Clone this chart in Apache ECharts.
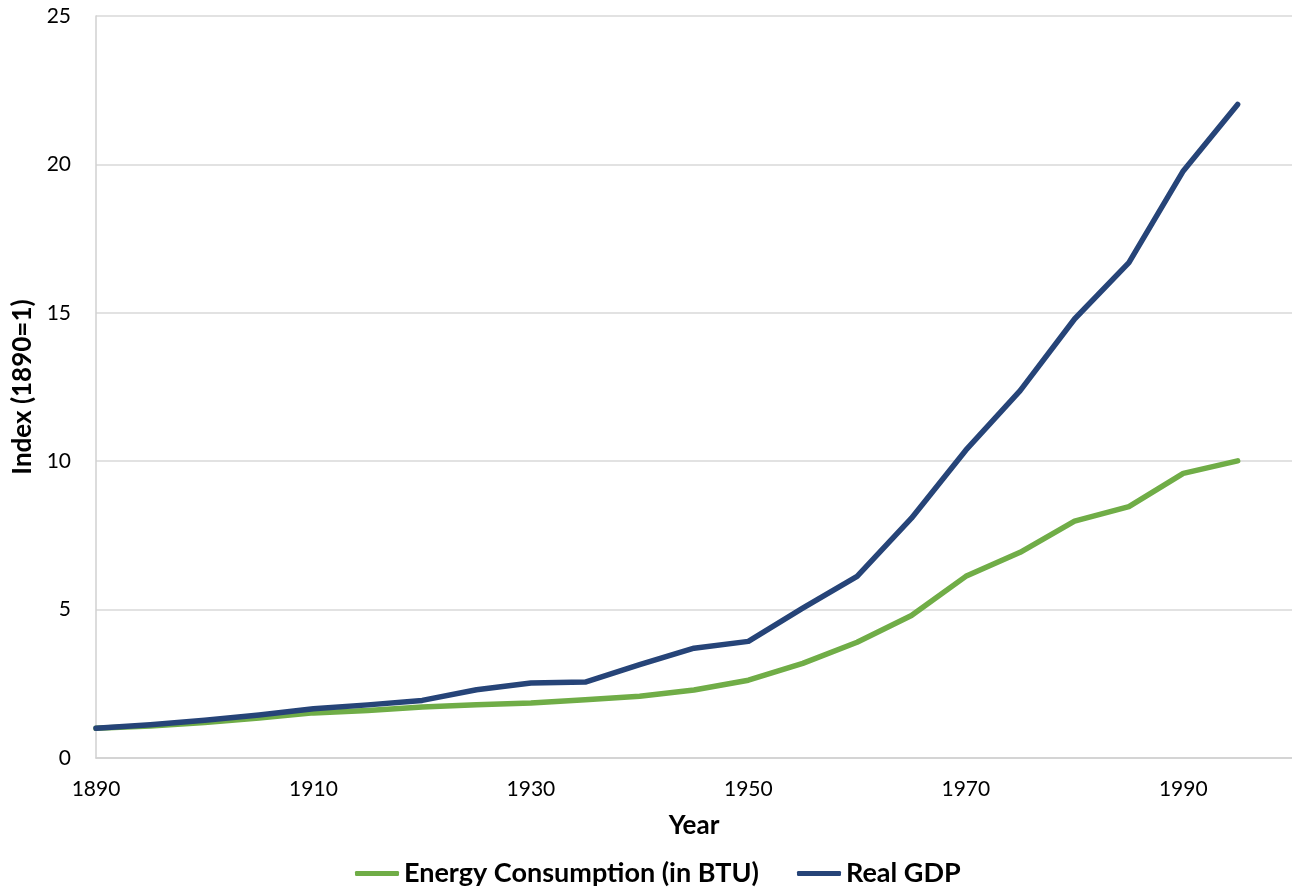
<!DOCTYPE html>
<html>
<head>
<meta charset="utf-8">
<script src="https://cdn.jsdelivr.net/npm/echarts@6/dist/echarts.min.js"></script>
<style>
  html, body { margin: 0; padding: 0; background: #fff; }
  #chart { width: 1292px; height: 888px; }
</style>
</head>
<body>
<div id="chart"></div>
<script>
// Five-year observations, indexed to 1890 = 1
const years = [1890, 1895, 1900, 1905, 1910, 1915, 1920, 1925, 1930, 1935, 1940,
               1945, 1950, 1955, 1960, 1965, 1970, 1975, 1980, 1985, 1990, 1995];
const energyBTU = [1.0, 1.08, 1.2, 1.35, 1.52, 1.6, 1.72, 1.79, 1.85, 1.96, 2.08,
                   2.29, 2.62, 3.19, 3.9, 4.8, 6.12, 6.93, 7.98, 8.47, 9.59, 10.01];
const realGDP = [1.0, 1.12, 1.27, 1.45, 1.66, 1.79, 1.94, 2.3, 2.53, 2.56, 3.15,
                 3.7, 3.93, 5.05, 6.12, 8.08, 10.37, 12.38, 14.79, 16.69, 19.78, 22.02];
const seriesNames = ['Energy Consumption (in BTU)', 'Real GDP'];
const seriesColors = ['#70AD47', '#264478'];

const pairs = (xs, ys) => xs.map((x, i) => [x, ys[i]]);

const fontFamily = 'Lato, "Open Sans", sans-serif';
const boldText = { fontFamily, fontSize: 26, fontWeight: 'bold', color: '#000' };
const chart = echarts.init(document.getElementById('chart'));

chart.setOption({
  animation: false,
  backgroundColor: '#ffffff',
  grid: { left: 96, top: 16, width: 1203, height: 742 },
  legend: {
    bottom: -4,
    left: 350,
    data: seriesNames,
    icon: 'roundRect',
    itemWidth: 44,
    itemHeight: 5,
    itemGap: 38,
    textStyle: { ...boldText, fontSize: 27 }
  },
  xAxis: {
    type: 'value',
    min: 1890,
    max: 2000,
    interval: 20,
    name: 'Year',
    nameLocation: 'middle',
    nameGap: 55,
    nameTextStyle: boldText,
    axisLine: { show: true, lineStyle: { color: '#d0d0d0', width: 1.5 } },
    axisTick: { show: false },
    splitLine: { show: false },
    axisLabel: {
      fontFamily, fontSize: 21, color: '#000', margin: 21,
      showMaxLabel: false,
      formatter: v => String(v)
    }
  },
  yAxis: {
    type: 'value',
    min: 0,
    max: 25,
    interval: 5,
    name: 'Index (1890=1)',
    nameLocation: 'middle',
    nameGap: 54,
    nameTextStyle: boldText,
    axisLine: { show: true, lineStyle: { color: '#d0d0d0', width: 1.5 } },
    axisTick: { show: false },
    splitLine: { show: true, lineStyle: { color: '#d9d9d9', width: 1.5 } },
    axisLabel: { fontFamily, fontSize: 21, color: '#000', margin: 25 }
  },
  series: [
    {
      name: seriesNames[0],
      type: 'line',
      data: pairs(years, energyBTU),
      showSymbol: false,
      symbol: 'none',
      color: seriesColors[0],
      lineStyle: { width: 5.5, color: seriesColors[0], cap: 'round', join: 'round' },
      z: 2
    },
    {
      name: seriesNames[1],
      type: 'line',
      data: pairs(years, realGDP),
      showSymbol: false,
      symbol: 'none',
      color: seriesColors[1],
      lineStyle: { width: 5.5, color: seriesColors[1], cap: 'round', join: 'round' },
      z: 3
    }
  ]
});
</script>
</body>
</html>
